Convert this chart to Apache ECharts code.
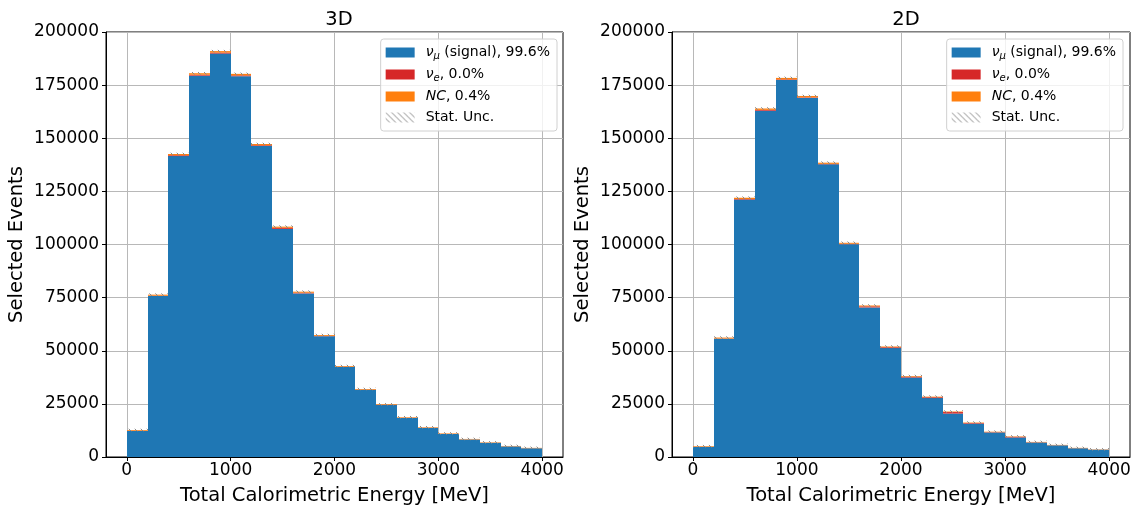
<!DOCTYPE html>
<html>
<head>
<meta charset="utf-8">
<title>Total Calorimetric Energy</title>
<script src="https://cdn.jsdelivr.net/npm/echarts@6/dist/echarts.min.js"></script>
<style>
  html, body { margin: 0; padding: 0; background: #fff; }
  #chart { width: 1140px; height: 509px; }
</style>
</head>
<body>
<div id="chart"></div>
<script>
  // bin edges [MeV]
  var binEdges = [0, 200, 400, 600, 800, 1000, 1200, 1400, 1600, 1800, 2000,
                  2200, 2400, 2600, 2800, 3000, 3200, 3400, 3600, 3800, 4000];
  var xTicks = [0, 1000, 2000, 3000, 4000];

  // 3D
  var signal3D = [12290, 75750, 141600, 179450, 189850, 179200, 146350, 107350, 77000, 56850,
                  42350, 31600, 24440, 18370, 13700, 10830, 8250, 6680, 4990, 4110];
  var nue3D    = [60, 150, 400, 450, 450, 400, 350, 500, 300, 150,
                  100, 80, 60, 50, 40, 30, 30, 20, 20, 20];
  var nc3D     = [350, 500, 600, 700, 700, 700, 600, 550, 500, 400,
                  350, 320, 300, 280, 260, 240, 220, 200, 190, 170];
  var unc3D    = [110, 275, 380, 425, 440, 425, 385, 330, 280, 240,
                  205, 180, 160, 135, 120, 105, 92, 83, 72, 65];

  // 2D
  var signal2D = [4770, 55650, 121150, 162950, 177400, 169000, 137750, 100150, 70400, 51250,
                  37400, 27720, 20450, 15670, 11540, 9200, 6820, 5490, 4110, 3440];
  var nue2D    = [30, 100, 250, 400, 300, 250, 200, 200, 500, 400,
                  400, 400, 700, 300, 150, 300, 100, 50, 40, 30];
  var nc2D     = [300, 450, 600, 650, 700, 650, 550, 450, 400, 350,
                  300, 280, 250, 230, 210, 200, 180, 160, 150, 130];
  var unc2D    = [72, 237, 350, 405, 422, 412, 372, 318, 267, 228,
                  195, 169, 146, 127, 109, 98, 84, 75, 66, 60];

  var FONT = 'DejaVu Sans';
  var BLUE = '#1f77b4', RED = '#d62728', ORANGE = '#ff7f0e';

  // hatch pattern for stat. unc.
  function makeHatch() {
    var c = document.createElement('canvas');
    c.width = 6; c.height = 6;
    var ctx = c.getContext('2d');
    ctx.strokeStyle = '#8a8a8a';
    ctx.lineWidth = 1;
    ctx.beginPath();
    ctx.moveTo(0, 0); ctx.lineTo(6, 6);
    ctx.moveTo(-3, 3); ctx.lineTo(3, 9);
    ctx.moveTo(3, -3); ctx.lineTo(9, 3);
    ctx.stroke();
    return c;
  }
  var hatch = { image: makeHatch(), repeat: 'repeat' };

  // stacked rects: [x0, x1, bottom, top]
  function stackLayer(base, vals) {
    var out = [];
    for (var i = 0; i < vals.length; i++) {
      out.push([binEdges[i], binEdges[i + 1], base[i], base[i] + vals[i]]);
      base[i] += vals[i];
    }
    return out;
  }

  function renderRect(params, api) {
    var p0 = api.coord([api.value(0), api.value(3)]);
    var p1 = api.coord([api.value(1), api.value(2)]);
    var x0 = Math.round(p0[0]), x1 = Math.round(p1[0]);
    return {
      type: 'rect',
      shape: { x: x0, y: p0[1], width: x1 - x0, height: p1[1] - p0[1] },
      style: api.style()
    };
  }

  function renderUnc(params, api) {
    var p0 = api.coord([api.value(0), api.value(3)]);
    var p1 = api.coord([api.value(1), api.value(2)]);
    var x0 = Math.round(p0[0]), x1 = Math.round(p1[0]);
    var yc = (p0[1] + p1[1]) / 2;
    var h = Math.max(2.5, p1[1] - p0[1]);
    return {
      type: 'rect',
      shape: { x: x0, y: yc - h / 2, width: x1 - x0, height: h },
      style: { fill: hatch }
    };
  }

  function panelSeries(idx, sig, nue, nc, unc) {
    var base = sig.map(function () { return 0; });
    var dSig = stackLayer(base, sig);
    var dNue = stackLayer(base, nue);
    var dNc = stackLayer(base, nc);
    var dUnc = base.map(function (t, i) {
      return [binEdges[i], binEdges[i + 1], t - unc[i], t + unc[i]];
    });
    var common = { type: 'custom', xAxisIndex: idx, yAxisIndex: idx,
                   encode: { x: [0, 1], y: [2, 3] }, silent: true, animation: false };
    return [
      Object.assign({ name: 'signal', renderItem: renderRect, itemStyle: { color: BLUE }, data: dSig, z: 2 }, common),
      Object.assign({ name: 'nue', renderItem: renderRect, itemStyle: { color: RED }, data: dNue, z: 3 }, common),
      Object.assign({ name: 'nc', renderItem: renderRect, itemStyle: { color: ORANGE }, data: dNc, z: 4 }, common),
      Object.assign({ name: 'unc', renderItem: renderUnc, itemStyle: { color: hatch }, data: dUnc, z: 5 }, common)
    ];
  }

  var legendLabels = {
    signal: '{it|ν}{sub|μ} (signal), 99.6%',
    nue: '{it|ν}{sub|e}, 0.0%',
    nc: '{it|NC}, 0.4%',
    unc: 'Stat. Unc.'
  };

  function makeLegend(right) {
    return {
      orient: 'vertical',
      right: right,
      top: 39,
      data: ['signal', 'nue', 'nc', 'unc'],
      icon: 'rect',
      itemWidth: 29,
      itemHeight: 10,
      itemGap: 6,
      padding: [6, 7, 6, 5],
      backgroundColor: 'rgba(255,255,255,0.8)',
      borderColor: '#d0d0d0',
      borderWidth: 1,
      borderRadius: 3,
      selectedMode: false,
      formatter: function (name) { return legendLabels[name]; },
      textStyle: {
        fontFamily: FONT, fontSize: 14, color: '#000', lineHeight: 15, padding: [0, 0, 0, 6],
        rich: {
          it: { fontFamily: FONT, fontSize: 14, fontStyle: 'italic', color: '#000' },
          sub: { fontFamily: FONT, fontSize: 10, fontStyle: 'italic', color: '#000', padding: [7, 0, 0, 0] }
        }
      }
    };
  }

  var gridLine = { show: true, lineStyle: { color: '#b8b8b8', width: 1 } };
  var axisBlack = { lineStyle: { color: '#000', width: 1 } };

  function plainNum(v) { return String(v); }

  function makeX(idx) {
    return {
      type: 'value', gridIndex: idx, min: -200, max: 4200,
      name: 'Total Calorimetric Energy [MeV]', nameLocation: 'middle', nameGap: 29,
      nameTextStyle: { fontFamily: FONT, fontSize: 19.5, color: '#000' },
      axisLine: { show: true, onZero: false, lineStyle: axisBlack.lineStyle },
      axisTick: { show: true, length: 4, customValues: xTicks, lineStyle: axisBlack.lineStyle },
      axisLabel: { customValues: xTicks, formatter: plainNum, fontFamily: FONT, fontSize: 17, color: '#000', margin: 5 },
      splitLine: gridLine
    };
  }

  function makeY(idx) {
    return {
      type: 'value', gridIndex: idx, min: 0, max: 200000, interval: 25000,
      name: 'Selected Events', nameLocation: 'middle', nameGap: 79, nameRotate: 90,
      nameTextStyle: { fontFamily: FONT, fontSize: 19.5, color: '#000' },
      axisLine: { show: true, onZero: false, lineStyle: axisBlack.lineStyle },
      axisTick: { show: true, length: 4, lineStyle: axisBlack.lineStyle },
      axisLabel: { formatter: plainNum, fontFamily: FONT, fontSize: 17, color: '#000', margin: 7 },
      splitLine: gridLine
    };
  }

  var chart = echarts.init(document.getElementById('chart'));
  chart.setOption({
    animation: false,
    title: [
      { text: '3D', left: 334, top: 5, textAlign: 'center',
        textStyle: { fontFamily: FONT, fontSize: 19.5, fontWeight: 'normal', color: '#000' } },
      { text: '2D', left: 901, top: 5, textAlign: 'center',
        textStyle: { fontFamily: FONT, fontSize: 19.5, fontWeight: 'normal', color: '#000' } }
    ],
    legend: [makeLegend(583), makeLegend(17)],
    grid: [
      { left: 106, right: 577, top: 32, bottom: 52, containLabel: false, outerBoundsMode: 'none',
        show: true, borderColor: '#000', borderWidth: 1, backgroundColor: 'transparent' },
      { left: 672, right: 10, top: 32, bottom: 52, containLabel: false, outerBoundsMode: 'none',
        show: true, borderColor: '#000', borderWidth: 1, backgroundColor: 'transparent' }
    ],
    xAxis: [makeX(0), makeX(1)],
    yAxis: [makeY(0), makeY(1)],
    series: panelSeries(0, signal3D, nue3D, nc3D, unc3D)
      .concat(panelSeries(1, signal2D, nue2D, nc2D, unc2D))
  });
</script>
</body>
</html>
